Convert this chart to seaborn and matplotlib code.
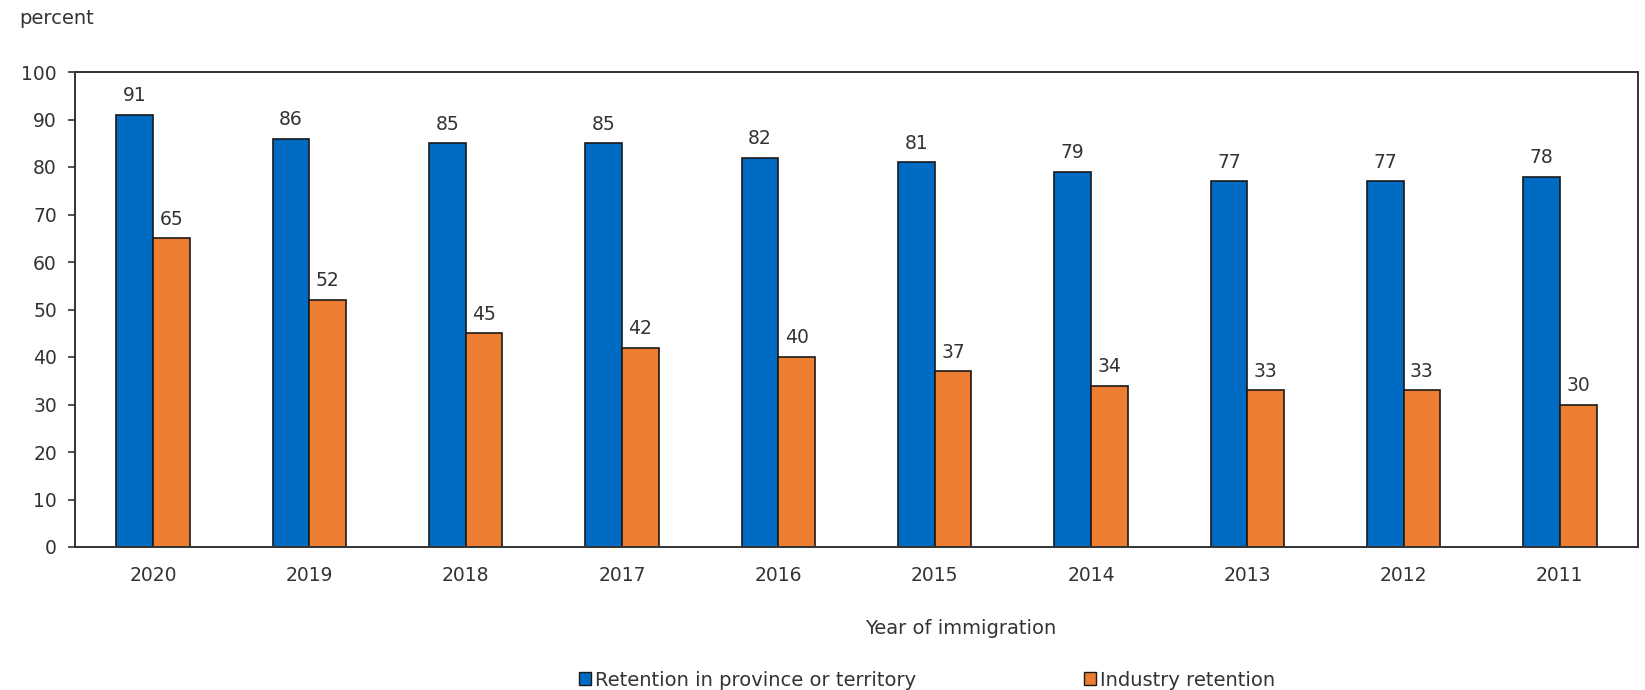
import matplotlib
matplotlib.use("Agg")
import matplotlib.pyplot as plt
import seaborn as sns
import pandas as pd
from matplotlib.patches import Patch

years = ["2020", "2019", "2018", "2017", "2016", "2015", "2014", "2013", "2012", "2011"]
province_retention = [91, 86, 85, 85, 82, 81, 79, 77, 77, 78]
industry_retention = [65, 52, 45, 42, 40, 37, 34, 33, 33, 30]
series_names = ["Retention in province or territory", "Industry retention"]
colors = ["#006BC2", "#ED7D31"]

df = pd.DataFrame({
    "year": years * 2,
    "value": province_retention + industry_retention,
    "series": [series_names[0]] * len(years) + [series_names[1]] * len(years),
})

sns.set_theme(style="white")
plt.rcParams["font.family"] = ["DejaVu Sans"]
text_color = "#333333"

fig = plt.figure(figsize=(16.45, 6.9), dpi=100)
ax = fig.add_axes([75 / 1645, 1 - 547 / 690, (1638 - 75) / 1645, (547 - 72) / 690])

sns.barplot(data=df, x="year", y="value", hue="series", order=years,
            hue_order=series_names, palette=colors, saturation=1, width=0.47,
            edgecolor="#1a1a1a", linewidth=1.2, ax=ax, legend=False)

for container in ax.containers:
    ax.bar_label(container, fmt="%d", padding=7, fontsize=13.5, color=text_color)

ax.set_ylim(0, 100)
ax.set_yticks(range(0, 101, 10))
ax.tick_params(axis="y", which="both", left=True, length=5, width=1.2,
               color=text_color, labelsize=13.5, labelcolor=text_color, pad=8)
ax.tick_params(axis="x", bottom=False, labelsize=13.5, labelcolor=text_color, pad=7.5)
for s in ax.spines.values():
    s.set_visible(True)
    s.set_color(text_color)
    s.set_linewidth(1.4)

ax.set_ylabel("")
ax.set_xlabel("Year of immigration", fontsize=14, color=text_color)
ax.xaxis.label.set_verticalalignment("center")
ax.xaxis.set_label_coords((961 - 75) / 1563, (547 - 629) / 475)
fig.text(19 / 1645, 1 - 18 / 690, "percent", fontsize=14, color=text_color, va="center")

handles = [Patch(facecolor=c, edgecolor="#1a1a1a", linewidth=1.0) for c in colors]
fig.legend(handles, series_names, loc="center", bbox_to_anchor=(927 / 1645, 1 - 680 / 690),
           ncol=2, frameon=False, fontsize=14, handlelength=0.65, handleheight=0.65,
           handletextpad=0.2, columnspacing=8.6, labelcolor=text_color)

fig.savefig("out.png", dpi=100)
